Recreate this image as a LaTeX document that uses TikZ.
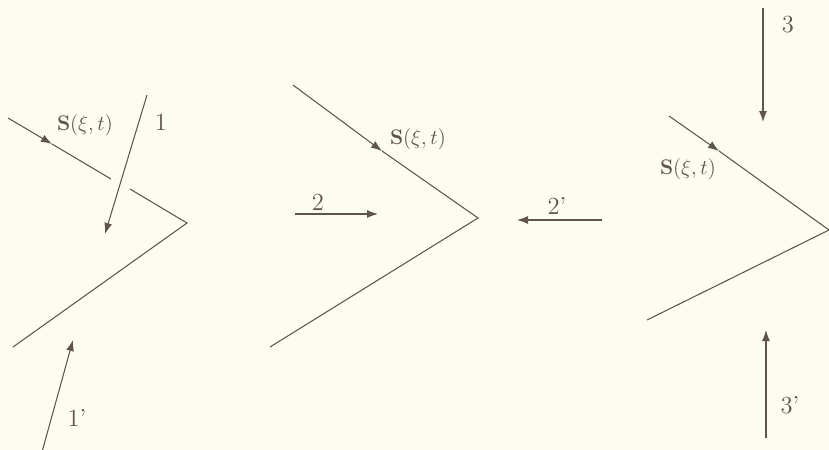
\documentclass[tikz,border=0pt]{standalone}
\usepackage{amsmath,amssymb}
\usepackage{tikz}
\usetikzlibrary{arrows.meta,positioning,calc}
\usepackage{xcolor}
\definecolor{ink}{RGB}{95,85,75}
\definecolor{paper}{RGB}{253,252,242}

\begin{document}
\begin{tikzpicture}[x=0.02cm, y=-0.02cm,
    edge/.style={draw=ink, line width=0.6pt},
    arr/.style={-{Latex[length=2.2mm, width=1.6mm]}, ink, line width=0.6pt},
    lbl/.style={text=ink, font=\fontsize{13}{15}\selectfont, inner sep=1pt},
    num/.style={text=ink, font=\fontsize{14}{16}\selectfont, inner sep=1pt}
]
    \fill[paper] (0,0) rectangle (829,450);
    \useasboundingbox (0,0) rectangle (829,450);

    % left wedge
    \coordinate (la) at (8,118);
    \coordinate (lm) at (52,144);
    \coordinate (lg1) at (111,179);
    \coordinate (lg2) at (130,189);
    \coordinate (lt) at (187,223);
    \coordinate (lb) at (13,347);
    \draw[arr] (la) -- (lm);
    \draw[edge] (lm) -- (lg1);
    \draw[edge] (lg2) -- (lt) -- (lb);
    \node[lbl] (ls) at (85,125) {$\mathbf{S}(\xi,t)$};

    \coordinate (o1) at (147,95);
    \coordinate (e1) at (105,234);
    \draw[arr] (o1) -- (e1);
    \node[num] (n1) at (161,122) {1};
    \coordinate (o1p) at (42,452);
    \coordinate (e1p) at (73,340);
    \draw[arr] (o1p) -- (e1p);
    \node[num] (n1p) at (77,418) {1'};

    % middle wedge
    \coordinate (ma) at (293,85);
    \coordinate (mm) at (382,151);
    \coordinate (mt) at (478,218);
    \coordinate (mb) at (270,347);
    \draw[arr] (ma) -- (mm);
    \draw[edge] (mm) -- (mt) -- (mb);
    \node[lbl] (ms) at (418,139) {$\mathbf{S}(\xi,t)$};

    \coordinate (o2) at (295,214);
    \coordinate (e2) at (378,214);
    \draw[arr] (o2) -- (e2);
    \node[num] (n2) at (318,202) {2};
    \coordinate (o2p) at (602,220);
    \coordinate (e2p) at (517,220);
    \draw[arr] (o2p) -- (e2p);
    \node[num] (n2p) at (557,206) {2'};

    % right wedge
    \coordinate (ra) at (669,116);
    \coordinate (rm) at (719,151);
    \coordinate (rt) at (829,230);
    \coordinate (rb) at (647,320);
    \draw[arr] (ra) -- (rm);
    \draw[edge] (rm) -- (rt) -- (rb);
    \node[lbl] (rs) at (688,169) {$\mathbf{S}(\xi,t)$};

    \coordinate (o3) at (763,8);
    \coordinate (e3) at (763,122);
    \draw[arr] (o3) -- (e3);
    \node[num] (n3) at (788,25) {3};
    \coordinate (o3p) at (766,438);
    \coordinate (e3p) at (766,330);
    \draw[arr] (o3p) -- (e3p);
    \node[num] (n3p) at (790,405) {3'};
\end{tikzpicture}
\end{document}
